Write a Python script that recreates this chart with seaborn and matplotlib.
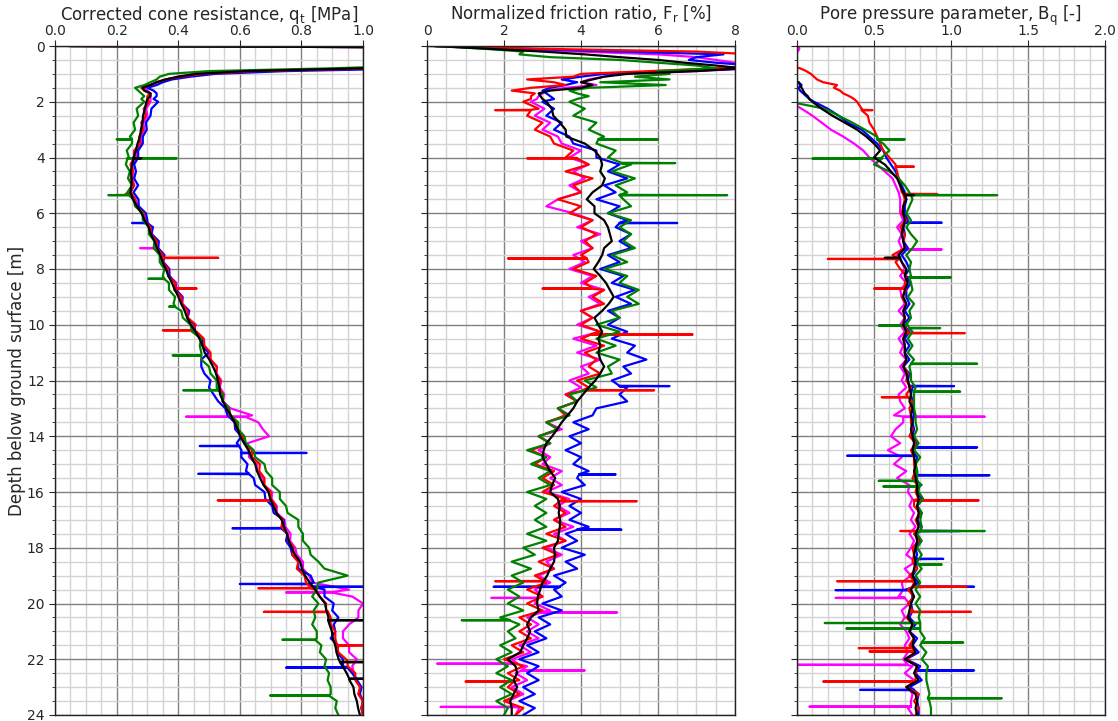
import numpy as np
import pandas as pd
import matplotlib
matplotlib.use("Agg")
import matplotlib.pyplot as plt
import seaborn as sns
from matplotlib.ticker import MultipleLocator, FormatStrFormatter

# ---------------- depth grid (m) ----------------
depth_top = np.round(np.arange(0.0, 2.0, 0.1), 2)          # 0.0 .. 1.9  (20)
depth_main = np.round(np.arange(2.0, 24.001, 0.25), 2)     # 2.0 .. 24.0 (89)
depth = np.concatenate([depth_top, depth_main])

series_names = ["magenta", "blue", "red", "green", "black"]
series_colors = ["#ff00ff", "#0000ff", "#ff0000", "#008000", "#000000"]

# ---------------- corrected cone resistance qt [MPa] ----------------
qt_black = [0.05, 2.5, 2.5, 2.5, 2.5, 2.5, 2.0, 1.3, 1.0, 0.62, 0.46, 0.4, 0.36, 0.33, 0.31, 0.285, 0.29, 0.31, 0.31, 0.3,
            0.297, 0.292, 0.286, 0.284, 0.279, 0.276, 0.268, 0.263,
            0.255, 0.251, 0.246, 0.249, 0.248, 0.245, 0.253, 0.266,
            0.281, 0.291, 0.304, 0.311, 0.323, 0.331, 0.342, 0.349,
            0.36, 0.368, 0.38, 0.389, 0.401, 0.41, 0.421, 0.429,
            0.441, 0.456, 0.469, 0.479, 0.486, 0.501, 0.513, 0.523,
            0.529, 0.534, 0.536, 0.546, 0.556, 0.571, 0.583, 0.593,
            0.601, 0.614, 0.628, 0.637, 0.65, 0.656, 0.666, 0.677,
            0.693, 0.699, 0.709, 0.719, 0.736, 0.744, 0.753, 0.759,
            0.769, 0.779, 0.796, 0.802, 0.812, 0.827, 0.845, 0.859,
            0.877, 0.881, 0.888, 0.891, 0.899, 0.902, 0.91, 0.914,
            0.921, 0.934, 0.947, 0.956, 0.969, 0.972, 0.98, 0.984,
            0.99]
qt_magenta = [0.05, 2.5, 2.5, 2.5, 2.5, 2.5, 2.0, 1.3, 1.0, 0.6, 0.45, 0.4, 0.36, 0.33, 0.31, 0.29, 0.3, 0.31, 0.31, 0.31,
              0.31, 0.296, 0.3, 0.287, 0.29, 0.278, 0.279, 0.266,
              0.262, 0.25, 0.254, 0.251, 0.257, 0.244, 0.262, 0.268,
              0.288, 0.294, 0.314, 0.315, 0.335, 0.334, 0.355, 0.352,
              0.372, 0.37, 0.395, 0.392, 0.415, 0.413, 0.436, 0.431,
              0.452, 0.455, 0.48, 0.482, 0.498, 0.505, 0.526, 0.524,
              0.54, 0.535, 0.55, 0.545, 0.57, 0.64, 0.66, 0.675,
              0.695, 0.625, 0.63, 0.63, 0.655, 0.655, 0.676, 0.678,
              0.705, 0.703, 0.72, 0.72, 0.745, 0.748, 0.765, 0.763,
              0.78, 0.785, 0.805, 0.805, 0.825, 0.835, 0.955, 0.965,
              1.0, 0.985, 0.985, 0.955, 0.935, 0.935, 0.955, 0.955,
              0.98, 0.965, 0.97, 0.98, 0.995, 0.985, 1.0, 0.995,
              1.0]
qt_blue = [0.04, 2.5, 2.5, 2.5, 2.5, 2.5, 2.2, 1.6, 1.2, 0.75, 0.52, 0.44, 0.38, 0.35, 0.33, 0.3, 0.32, 0.33, 0.33, 0.32,
           0.335, 0.313, 0.31, 0.295, 0.298, 0.285, 0.285, 0.27,
           0.27, 0.257, 0.263, 0.257, 0.27, 0.255, 0.271, 0.272,
           0.295, 0.3, 0.318, 0.313, 0.337, 0.335, 0.355, 0.351,
           0.37, 0.372, 0.39, 0.393, 0.413, 0.412, 0.435, 0.43,
           0.453, 0.455, 0.481, 0.478, 0.499, 0.475, 0.475, 0.485,
           0.505, 0.5, 0.515, 0.53, 0.553, 0.56, 0.583, 0.585,
           0.605, 0.59, 0.605, 0.605, 0.625, 0.62, 0.645, 0.65,
           0.68, 0.683, 0.705, 0.71, 0.743, 0.741, 0.755, 0.75,
           0.765, 0.77, 0.79, 0.79, 0.83, 0.84, 0.875, 0.875,
           0.905, 0.9, 0.92, 0.905, 0.91, 0.895, 0.92, 0.915,
           0.935, 0.935, 0.965, 0.98, 0.995, 0.99, 1.0, 0.995,
           1.0]
qt_red = [0.05, 2.5, 2.5, 2.5, 2.5, 2.5, 2.0, 1.35, 1.05, 0.65, 0.48, 0.41, 0.36, 0.33, 0.31, 0.28, 0.29, 0.31, 0.3, 0.3,
          0.305, 0.288, 0.295, 0.28, 0.286, 0.273, 0.277, 0.257,
          0.257, 0.245, 0.253, 0.246, 0.257, 0.245, 0.26, 0.263,
          0.288, 0.289, 0.31, 0.311, 0.33, 0.331, 0.35, 0.35,
          0.367, 0.367, 0.39, 0.387, 0.41, 0.413, 0.43, 0.431,
          0.457, 0.46, 0.483, 0.485, 0.505, 0.505, 0.525, 0.523,
          0.537, 0.533, 0.545, 0.543, 0.565, 0.567, 0.59, 0.591,
          0.61, 0.615, 0.64, 0.64, 0.665, 0.663, 0.68, 0.68,
          0.7, 0.7, 0.717, 0.717, 0.74, 0.735, 0.755, 0.757,
          0.775, 0.77, 0.79, 0.785, 0.81, 0.815, 0.845, 0.86,
          0.88, 0.88, 0.895, 0.895, 0.91, 0.91, 0.925, 0.92,
          0.945, 0.95, 0.975, 0.975, 0.99, 0.985, 1.0, 0.995,
          1.0]
qt_green = [0.05, 2.5, 2.5, 2.5, 2.5, 2.5, 1.9, 1.2, 0.9, 0.5, 0.37, 0.34, 0.33, 0.31, 0.29, 0.26, 0.27, 0.28, 0.29, 0.28,
            0.29, 0.265, 0.27, 0.255, 0.26, 0.243, 0.25, 0.233,
            0.24, 0.23, 0.243, 0.237, 0.25, 0.235, 0.255, 0.26,
            0.285, 0.285, 0.305, 0.305, 0.323, 0.32, 0.34, 0.34,
            0.355, 0.35, 0.37, 0.37, 0.39, 0.385, 0.41, 0.415,
            0.44, 0.445, 0.475, 0.47, 0.475, 0.475, 0.5, 0.505,
            0.525, 0.525, 0.545, 0.545, 0.565, 0.57, 0.595, 0.595,
            0.615, 0.62, 0.645, 0.65, 0.68, 0.685, 0.705, 0.705,
            0.73, 0.73, 0.75, 0.755, 0.79, 0.79, 0.805, 0.805,
            0.825, 0.83, 0.855, 0.875, 0.95, 0.855, 0.85, 0.835,
            0.855, 0.84, 0.845, 0.835, 0.85, 0.85, 0.865, 0.86,
            0.88, 0.875, 0.89, 0.885, 0.895, 0.895, 0.915, 0.91,
            0.92]
# spikes: (depth, level around spike, spike value)
spk_qt_magenta = [(7.25, 0.335, 0.276), (13.3, 0.62, 0.425), (19.6, 0.9, 0.75)]
spk_qt_blue = [(6.35, 0.3, 0.25), (14.35, 0.598, 0.47), (14.6, 0.605, 0.817), (15.35, 0.63, 0.465),
               (17.3, 0.735, 0.576), (19.3, 0.82, 0.6), (19.4, 0.84, 1.0), (22.3, 0.95, 0.75)]
spk_qt_red = [(5.3, 0.25, 0.23), (7.6, 0.345, 0.53), (8.7, 0.39, 0.46), (10.2, 0.45, 0.35),
              (16.3, 0.705, 0.528), (19.45, 0.83, 0.66), (20.3, 0.887, 0.678), (21.5, 0.915, 1.0),
              (22.1, 0.95, 1.0)]
spk_qt_green = [(3.35, 0.25, 0.2), (4.03, 0.235, 0.395), (5.35, 0.24, 0.173), (8.35, 0.355, 0.303),
                (9.35, 0.39, 0.37), (11.1, 0.475, 0.382), (12.35, 0.53, 0.416), (21.3, 0.845, 0.738),
                (23.3, 0.89, 0.698)]
spk_qt_black = [(4.03, 0.255, 0.28), (20.6, 0.887, 1.0), (22.1, 0.925, 1.0), (22.7, 0.955, 1.0)]

# ---------------- normalized friction ratio Fr [%] ----------------
fr_black = [0.2, 1.6, 3.0, 4.1, 5.0, 6.0, 6.7, 7.5, 8.2, 7.0, 5.2, 4.6, 4.3, 4.0, 4.3, 4.0, 3.2, 2.9, 2.95, 3.0,
            3.1, 3.24, 3.28, 3.45, 3.6, 3.62, 4.1, 4.35,
            4.5, 4.55, 4.5, 4.62, 4.55, 4.3, 4.15, 4.35,
            4.35, 4.6, 4.7, 4.75, 4.8, 4.6, 4.55, 4.45,
            4.33, 4.5, 4.65, 4.75, 4.85, 4.72, 4.55, 4.35,
            4.45, 4.55, 4.45, 4.5, 4.45, 4.5, 4.6, 4.5,
            4.37, 4.2, 4.05, 3.9, 3.8, 3.65, 3.5, 3.38,
            3.25, 3.1, 3.03, 3.0, 3.1, 3.2, 3.33, 3.25,
            3.2, 3.4, 3.45, 3.42, 3.46, 3.45, 3.42, 3.4,
            3.3, 3.32, 3.3, 3.2, 3.12, 3.0, 2.94, 2.88,
            2.86, 2.9, 2.7, 2.6, 2.68, 2.6, 2.5, 2.42,
            2.1, 2.3, 2.34, 2.25, 2.34, 2.25, 2.16, 2.2,
            2.2]
fr_magenta = [0.2, 2.0, 4.0, 6.0, 7.0, 7.5, 8.0, 8.5, 8.5, 7.0, 5.0, 4.6, 4.2, 4.0, 4.4, 3.6, 3.1, 3.0, 2.9, 2.85,
              2.7, 3.05, 2.8, 3.2, 3.0, 3.4, 3.5, 4.0,
              3.7, 4.2, 3.8, 4.1, 3.7, 4.0, 3.4, 3.1,
              3.8, 4.3, 3.9, 4.5, 4.0, 4.3, 3.8, 4.1,
              3.7, 4.3, 4.0, 4.6, 4.2, 4.5, 4.0, 4.3,
              3.9, 4.5, 3.8, 4.4, 3.9, 4.5, 4.0, 4.2,
              3.7, 4.0, 3.6, 3.9, 3.4, 3.7, 3.1, 3.5,
              2.9, 3.2, 2.9, 3.2, 3.0, 3.5, 3.2, 3.5,
              3.1, 3.7, 3.4, 3.7, 3.3, 3.8, 3.3, 3.6,
              3.1, 3.5, 3.1, 3.3, 2.9, 3.2, 2.8, 3.0,
              2.8, 3.2, 2.6, 2.9, 2.6, 2.9, 2.4, 2.7,
              2.2, 2.6, 2.3, 2.6, 2.2, 2.5, 2.1, 2.4,
              2.3]
fr_blue = [0.1, 2.5, 5.0, 7.7, 7.0, 6.8, 7.5, 8.5, 8.5, 6.5, 4.6, 4.0, 3.5, 3.9, 3.6, 3.2, 3.0, 3.1, 3.2, 3.3,
           3.0, 3.3, 3.1, 3.5, 3.3, 3.7, 3.8, 4.4,
           4.4, 5.0, 4.7, 5.2, 4.6, 4.9, 4.4, 5.0,
           4.7, 5.2, 4.9, 5.3, 5.0, 5.3, 4.7, 5.0,
           4.5, 5.1, 4.8, 5.4, 4.9, 5.3, 4.7, 5.0,
           4.7, 5.2, 4.8, 5.4, 5.2, 5.7, 5.1, 5.3,
           4.8, 5.2, 5.0, 5.2, 4.4, 4.3, 3.8, 4.2,
           3.7, 4.0, 3.6, 4.0, 3.8, 4.2, 3.9, 4.1,
           3.5, 4.0, 3.7, 4.0, 3.7, 4.2, 3.6, 3.9,
           3.5, 4.1, 3.6, 3.9, 3.3, 3.6, 3.3, 3.5,
           3.0, 3.5, 2.9, 3.2, 2.8, 3.1, 2.6, 2.9,
           2.4, 2.9, 2.6, 2.9, 2.5, 2.8, 2.4, 2.8,
           2.5]
fr_red = [0.2, 3.0, 7.0, 8.5, 8.5, 8.5, 8.5, 8.5, 7.5, 5.8, 4.0, 3.8, 2.6, 3.3, 3.6, 2.7, 2.2, 2.8, 2.7, 2.7,
          2.5, 2.9, 2.6, 3.0, 2.8, 3.2, 3.3, 3.8,
          3.6, 4.2, 3.6, 4.3, 3.8, 4.0, 3.4, 4.0,
          3.7, 4.3, 4.0, 4.4, 4.1, 4.3, 4.0, 4.2,
          3.8, 4.4, 4.1, 4.6, 4.3, 4.6, 4.0, 4.3,
          4.0, 4.5, 4.0, 4.6, 4.1, 4.4, 4.2, 4.5,
          3.9, 4.2, 3.6, 3.9, 3.4, 3.6, 3.1, 3.4,
          2.9, 3.2, 2.7, 3.1, 2.8, 3.3, 3.0, 3.3,
          3.0, 3.6, 3.3, 3.6, 3.3, 3.6, 3.1, 3.6,
          3.0, 3.4, 2.9, 3.3, 2.8, 3.1, 2.6, 3.0,
          2.6, 3.0, 2.4, 2.7, 2.4, 2.7, 2.2, 2.5,
          2.0, 2.5, 2.1, 2.4, 2.1, 2.4, 2.0, 2.5,
          2.3]
fr_green = [0.2, 1.5, 2.5, 2.4, 3.2, 5.0, 6.0, 7.0, 7.5, 6.0, 6.3, 5.4, 6.3, 4.5, 6.2, 4.2, 3.7, 3.9, 4.2, 3.9,
            3.7, 4.1, 3.8, 4.4, 4.2, 4.6, 4.4, 4.9,
            4.7, 5.3, 4.8, 5.4, 4.9, 5.2, 5.1, 5.3,
            4.7, 5.3, 5.0, 5.3, 5.1, 5.4, 4.8, 5.2,
            4.6, 5.2, 5.0, 5.5, 5.2, 5.5, 4.8, 5.0,
            4.4, 5.0, 4.4, 4.9, 4.4, 5.0, 4.7, 4.8,
            4.1, 4.4, 3.7, 3.9, 3.4, 3.7, 3.1, 3.4,
            2.9, 3.2, 2.6, 3.1, 2.7, 3.2, 2.9, 3.2,
            2.6, 3.1, 2.8, 3.1, 2.8, 3.1, 2.6, 3.1,
            2.5, 2.8, 2.2, 2.7, 2.2, 2.5, 2.1, 2.4,
            2.1, 2.5, 1.9, 2.4, 2.1, 2.3, 1.9, 2.2,
            1.8, 2.1, 1.8, 2.2, 1.9, 2.2, 1.8, 2.1,
            2.0]
spk_fr_magenta = [(19.8, 2.9, 1.67), (20.32, 2.95, 4.94), (22.16, 2.35, 0.26), (22.4, 2.45, 4.1), (23.71, 2.3, 0.35)]
spk_fr_blue = [(6.35, 5.0, 6.5), (12.2, 5.0, 6.3), (15.37, 3.95, 4.9), (17.35, 3.9, 5.05), (19.4, 3.45, 1.73)]
spk_fr_red = [(2.3, 2.7, 1.77), (4.03, 3.9, 2.6), (7.62, 4.15, 2.1), (8.7, 4.3, 3.0), (10.35, 4.25, 6.9),
              (12.35, 4.05, 5.9), (16.33, 3.45, 5.45), (19.2, 3.05, 1.77), (22.8, 2.25, 1.0)]
spk_fr_green = [(3.35, 4.45, 6.0), (4.2, 5.05, 6.45), (5.35, 5.0, 7.8), (20.6, 2.15, 0.9)]
spk_fr_black = []

# ---------------- pore pressure parameter Bq [-] ----------------
bq_black = [-0.3, -0.3, -0.3, -0.3, -0.3, -0.3, -0.3, -0.3, -0.3, -0.3, -0.3, -0.3, -0.3,
            0.01, 0.02, 0.03, 0.04, 0.05, 0.07, 0.08,
            0.1, 0.16, 0.23, 0.31, 0.39, 0.45, 0.5, 0.54,
            0.5, 0.57, 0.61, 0.65, 0.67, 0.69, 0.71, 0.69,
            0.69, 0.7, 0.69, 0.68, 0.69, 0.7, 0.66, 0.68,
            0.71, 0.7, 0.72, 0.7, 0.69, 0.71, 0.69, 0.7,
            0.69, 0.71, 0.69, 0.7, 0.7, 0.71, 0.69, 0.71,
            0.72, 0.73, 0.74, 0.73, 0.75, 0.74, 0.75, 0.74,
            0.75, 0.76, 0.75, 0.76, 0.77, 0.76, 0.77, 0.78,
            0.78, 0.79, 0.78, 0.79, 0.78, 0.79, 0.77, 0.78,
            0.77, 0.76, 0.77, 0.76, 0.75, 0.77, 0.74, 0.76,
            0.74, 0.73, 0.72, 0.75, 0.73, 0.76, 0.75, 0.77,
            0.7, 0.78, 0.76, 0.79, 0.71, 0.77, 0.78, 0.77,
            0.78]
bq_magenta = [0.01, 0.015, 0.005, -0.3, -0.3, -0.3, -0.3, -0.3, -0.3, -0.3, -0.3, -0.3, -0.3,
              -0.3, -0.3, -0.3, -0.3, -0.3, -0.3, -0.3,
              -0.05, 0.03, 0.1, 0.16, 0.22, 0.3, 0.37, 0.43,
              0.47, 0.52, 0.57, 0.62, 0.64, 0.66, 0.67, 0.67,
              0.67, 0.69, 0.65, 0.68, 0.66, 0.68, 0.65, 0.68,
              0.7, 0.67, 0.71, 0.67, 0.68, 0.7, 0.66, 0.7,
              0.67, 0.7, 0.66, 0.69, 0.67, 0.71, 0.67, 0.7,
              0.68, 0.71, 0.66, 0.67, 0.7, 0.63, 0.69, 0.64,
              0.61, 0.67, 0.59, 0.68, 0.63, 0.71, 0.65, 0.73,
              0.72, 0.75, 0.73, 0.76, 0.74, 0.77, 0.73, 0.76,
              0.74, 0.71, 0.77, 0.7, 0.74, 0.68, 0.69, 0.66,
              0.73, 0.68, 0.7, 0.67, 0.71, 0.73, 0.7, 0.72,
              0.69, 0.75, 0.7, 0.76, 0.72, 0.75, 0.74, 0.72,
              0.75]
bq_blue = [-0.3, -0.3, -0.3, -0.3, -0.3, -0.3, -0.3, -0.3, -0.3, -0.3, -0.3, -0.3, -0.3,
           0.01, 0.03, 0.01, 0.02, 0.04, 0.06, 0.08,
           0.11, 0.2, 0.27, 0.33, 0.42, 0.47, 0.52, 0.56,
           0.58, 0.61, 0.64, 0.66, 0.68, 0.7, 0.71, 0.7,
           0.7, 0.72, 0.69, 0.7, 0.69, 0.72, 0.68, 0.71,
           0.73, 0.7, 0.74, 0.71, 0.71, 0.73, 0.7, 0.73,
           0.69, 0.73, 0.7, 0.73, 0.7, 0.73, 0.69, 0.73,
           0.72, 0.75, 0.74, 0.75, 0.75, 0.76, 0.75, 0.76,
           0.75, 0.78, 0.75, 0.78, 0.77, 0.78, 0.77, 0.8,
           0.78, 0.81, 0.78, 0.81, 0.78, 0.81, 0.77, 0.8,
           0.77, 0.78, 0.77, 0.78, 0.75, 0.79, 0.71, 0.75,
           0.74, 0.75, 0.73, 0.77, 0.73, 0.78, 0.75, 0.79,
           0.71, 0.8, 0.77, 0.81, 0.73, 0.79, 0.78, 0.79,
           0.79]
bq_red = [-0.3, -0.3, -0.3, -0.3, -0.3, -0.3, -0.3,
          -0.05, 0.02, 0.06, 0.09, 0.11, 0.13, 0.17, 0.26, 0.24, 0.28, 0.3, 0.34, 0.37,
          0.39, 0.42, 0.46, 0.47, 0.5, 0.52, 0.54, 0.56,
          0.6, 0.64, 0.65, 0.66, 0.67, 0.68, 0.7, 0.69,
          0.68, 0.71, 0.67, 0.7, 0.69, 0.7, 0.62, 0.64,
          0.67, 0.71, 0.7, 0.71, 0.68, 0.71, 0.69, 0.7,
          0.69, 0.72, 0.69, 0.7, 0.7, 0.71, 0.69, 0.72,
          0.71, 0.74, 0.71, 0.75, 0.73, 0.74, 0.74, 0.75,
          0.73, 0.77, 0.74, 0.76, 0.76, 0.77, 0.75, 0.78,
          0.77, 0.79, 0.76, 0.8, 0.77, 0.79, 0.76, 0.79,
          0.75, 0.76, 0.75, 0.78, 0.73, 0.76, 0.72, 0.76,
          0.72, 0.75, 0.71, 0.75, 0.73, 0.76, 0.73, 0.77,
          0.71, 0.78, 0.77, 0.77, 0.71, 0.79, 0.76, 0.79,
          0.77]
bq_green = [-0.3, -0.3, -0.3, -0.3, -0.3, -0.3, -0.3, -0.3, -0.3, -0.3,
            -0.3, -0.3, -0.3, -0.3, -0.3, -0.3, -0.3, -0.3, -0.3, -0.3,
            -0.05, 0.18, 0.27, 0.36, 0.44, 0.52, 0.56, 0.6,
            0.55, 0.5, 0.6, 0.66, 0.7, 0.73, 0.75, 0.73,
            0.71, 0.74, 0.71, 0.74, 0.78, 0.75, 0.71, 0.74,
            0.73, 0.74, 0.74, 0.75, 0.72, 0.76, 0.73, 0.74,
            0.71, 0.75, 0.72, 0.75, 0.72, 0.76, 0.73, 0.74,
            0.74, 0.77, 0.76, 0.76, 0.76, 0.77, 0.77, 0.78,
            0.76, 0.79, 0.76, 0.8, 0.77, 0.78, 0.78, 0.81,
            0.79, 0.82, 0.78, 0.81, 0.8, 0.81, 0.78, 0.81,
            0.78, 0.81, 0.78, 0.81, 0.77, 0.8, 0.77, 0.8,
            0.77, 0.8, 0.79, 0.8, 0.8, 0.83, 0.8, 0.84,
            0.81, 0.85, 0.84, 0.84, 0.85, 0.86, 0.86, 0.87,
            0.87]
spk_bq_black = [(5.35, 0.7, 0.76), (7.6, 0.67, 0.57)]
spk_bq_red = [(2.3, 0.42, 0.49), (4.33, 0.64, 0.76), (5.31, 0.69, 0.91), (7.64, 0.66, 0.2), (8.7, 0.7, 0.5),
              (10.3, 0.7, 1.09), (12.6, 0.72, 0.55), (16.3, 0.76, 1.18), (17.4, 0.78, 0.67), (19.2, 0.76, 0.26),
              (19.4, 0.75, 1.1), (20.3, 0.74, 1.13), (21.6, 0.75, 0.4), (21.72, 0.76, 0.47), (22.8, 0.76, 0.17)]
spk_bq_blue = [(6.34, 0.7, 0.94), (8.3, 0.71, 0.95), (12.2, 0.73, 1.02), (14.4, 0.76, 1.17), (14.7, 0.77, 0.325),
               (15.4, 0.78, 1.25), (17.4, 0.8, 1.06), (18.4, 0.77, 0.95), (19.4, 0.75, 1.15), (19.52, 0.74, 0.25),
               (22.4, 0.78, 1.15), (23.1, 0.76, 0.41)]
spk_bq_green = [(3.35, 0.52, 0.7), (4.04, 0.55, 0.1), (5.35, 0.74, 1.3), (8.3, 0.73, 1.0), (10.03, 0.72, 0.53),
                (10.12, 0.73, 0.93), (11.4, 0.74, 1.17), (12.4, 0.76, 1.06), (15.6, 0.78, 0.53), (15.8, 0.79, 0.56),
                (17.4, 0.8, 1.22), (18.6, 0.79, 0.94), (20.7, 0.8, 0.18), (20.9, 0.8, 0.32), (21.4, 0.81, 1.08),
                (23.4, 0.85, 1.33)]
spk_bq_magenta = [(7.3, 0.68, 0.94), (13.3, 0.69, 1.22), (19.8, 0.7, 0.25), (22.2, 0.72, 0.0), (23.7, 0.74, 0.08)]

# ---------------- assemble long-form tables ----------------
def make_trace(values, spikes):
    if len(values) != len(depth):
        raise ValueError(f"length {len(values)} != {len(depth)}")
    d = list(depth)
    v = list(values)
    for sd, base, peak in spikes:
        d += [sd - 0.01, sd, sd + 0.01]
        v += [base, peak, base]
    order = np.argsort(np.asarray(d), kind="stable")
    return np.asarray(d)[order], np.asarray(v)[order]


def panel_frame(series_values, series_spikes):
    frames = []
    for name, vals, spk in zip(series_names, series_values, series_spikes):
        d, v = make_trace(vals, spk)
        frames.append(pd.DataFrame({"depth": d, "value": v, "series": name}))
    return pd.concat(frames, ignore_index=True)


df_qt = panel_frame([qt_magenta, qt_blue, qt_red, qt_green, qt_black],
                    [spk_qt_magenta, spk_qt_blue, spk_qt_red, spk_qt_green, spk_qt_black])
df_fr = panel_frame([fr_magenta, fr_blue, fr_red, fr_green, fr_black],
                    [spk_fr_magenta, spk_fr_blue, spk_fr_red, spk_fr_green, spk_fr_black])
df_bq = panel_frame([bq_magenta, bq_blue, bq_red, bq_green, bq_black],
                    [spk_bq_magenta, spk_bq_blue, spk_bq_red, spk_bq_green, spk_bq_black])

# ---------------- figure ----------------
sns.set_style("ticks")
plt.rcParams["font.family"] = ["DejaVu Sans"]

fig = plt.figure(figsize=(11.18, 7.21), dpi=100)
W = 308 / 1118
B = 6 / 721
H = 669 / 721
lefts = [55 / 1118, 427 / 1118, 797 / 1118]

panels = [
    (df_qt, "Corrected cone resistance, q$_\\mathrm{t}$ [MPa]", (0, 1.0), 0.2, 0.05, "%.1f"),
    (df_fr, "Normalized friction ratio, F$_\\mathrm{r}$ [%]", (0, 8), 2, 0.5, "%d"),
    (df_bq, "Pore pressure parameter, B$_\\mathrm{q}$ [-]", (0, 2.0), 0.5, 0.1, "%.1f"),
]
palette = dict(zip(series_names, series_colors))

for i, (df, title, xlim, xmaj, xmin, fmt) in enumerate(panels):
    ax = fig.add_axes([lefts[i], B, W, H])
    sns.lineplot(data=df, x="value", y="depth", hue="series", hue_order=series_names,
                 palette=palette, sort=False, estimator=None, orient="y",
                 linewidth=1.6, legend=False, ax=ax)
    ax.set_xlim(*xlim)
    ax.set_ylim(24, 0)
    ax.xaxis.set_major_locator(MultipleLocator(xmaj))
    ax.xaxis.set_minor_locator(MultipleLocator(xmin))
    ax.xaxis.set_major_formatter(FormatStrFormatter(fmt))
    ax.yaxis.set_major_locator(MultipleLocator(2))
    ax.yaxis.set_minor_locator(MultipleLocator(0.5))
    ax.xaxis.tick_top()
    ax.xaxis.set_label_position("top")
    ax.set_xlabel(title, fontsize=12, labelpad=3)
    ax.tick_params(axis="x", which="major", length=4, labelsize=10, pad=2)
    ax.tick_params(axis="x", which="minor", length=0)
    ax.tick_params(axis="y", which="major", length=4, labelsize=10)
    ax.tick_params(axis="y", which="minor", length=2.5)
    ax.grid(which="major", color="#808080", linewidth=1.0)
    ax.grid(which="minor", color="#d3d3d3", linewidth=1.0)
    ax.set_axisbelow(True)
    for s in ax.spines.values():
        s.set_visible(True)
        s.set_color("#222222")
        s.set_linewidth(1.0)
    if i == 0:
        ax.set_ylabel("Depth below ground surface [m]", fontsize=12)
        ax.yaxis.set_label_coords(-0.094, 0.5)
    else:
        ax.set_ylabel("")
        ax.tick_params(axis="y", labelleft=False)

fig.savefig("out.png", dpi=100)
